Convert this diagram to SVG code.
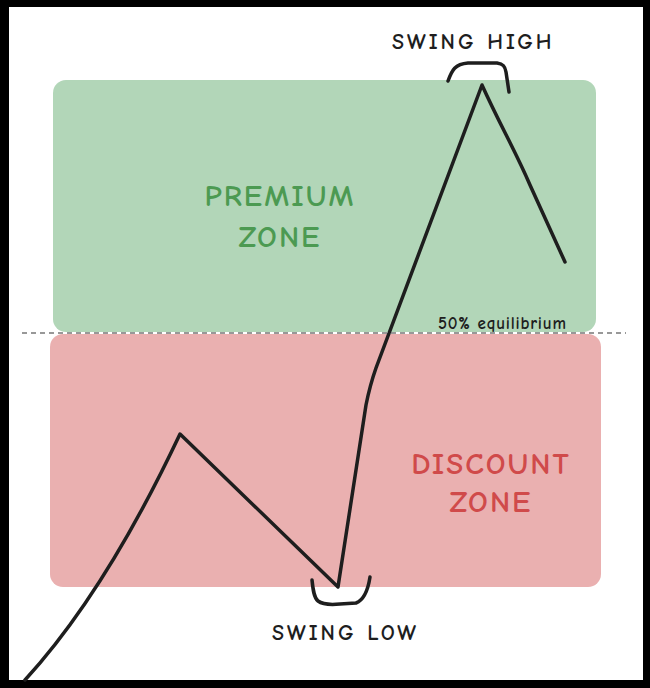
<svg xmlns="http://www.w3.org/2000/svg" width="650" height="688" viewBox="0 0 650 688">
<style>
.hand{font-family:"Comic Neue","Lato","DejaVu Sans",sans-serif;font-weight:600;}
.label{font-size:22px;fill:#1e1e1e;letter-spacing:3px;}
.zone{font-size:31px;letter-spacing:2px;text-anchor:middle;}
.ink{fill:none;stroke:#1e1e1e;stroke-width:3.5;stroke-linecap:round;stroke-linejoin:round;}
</style>
<rect x="0" y="0" width="650" height="688" fill="#000"/>
<rect x="9" y="7" width="634" height="673" fill="#fff"/>
<g id="premium-zone">
<rect x="53" y="80" width="543" height="252" rx="13" fill="#b2d6b8"/>
<text class="hand zone" x="280" y="206" fill="#4c9a52">PREMIUM</text>
<text class="hand zone" x="280" y="247" fill="#4c9a52">ZONE</text>
</g>
<g id="discount-zone">
<rect x="50" y="334" width="551" height="253" rx="13" fill="#eab0b0"/>
<text class="hand zone" x="491" y="474" fill="#d04a4a">DISCOUNT</text>
<text class="hand zone" x="491" y="512" fill="#d04a4a">ZONE</text>
</g>
<g id="equilibrium">
<line x1="22" y1="333" x2="626" y2="333" stroke="#333" stroke-width="1.2" stroke-dasharray="5 4"/>
<text class="hand" x="438" y="329" font-size="17" font-weight="500" letter-spacing="0.8" fill="#1e1e1e">50% equilibrium</text>
</g>
<g id="connectors">
<path class="ink" d="M25 680 C 80 620, 130 540, 180 434 L 338 587 L 366 405 Q 370 385, 376 368 L 482 85 C 500 125, 515 150, 530 185 L 565 262"/>
<path class="ink" stroke-width="3" d="M448 81 C 452 70, 455 64, 468 63 L 497 63 C 503 64, 505 66, 506 72 L 509 92"/>
<path class="ink" stroke-width="3" d="M312 580 C 313 590, 314 598, 318 601 C 322 604, 330 605, 340 604 L 356 603 C 364 600, 368 590, 370 577"/>
</g>
<g id="swing-high">
<text class="hand label" x="392" y="49">SWING HIGH</text>
</g>
<g id="swing-low">
<text class="hand label" x="272" y="640">SWING LOW</text>
</g>
</svg>
